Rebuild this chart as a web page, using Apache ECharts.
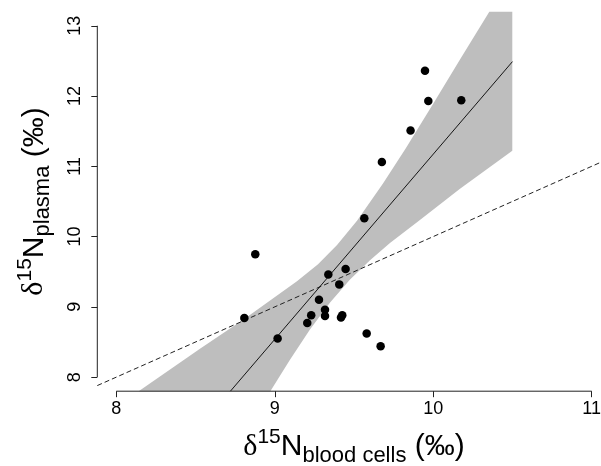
<!DOCTYPE html>
<html><head><meta charset="utf-8">
<script src="https://cdn.jsdelivr.net/npm/echarts@6/dist/echarts.min.js"></script>
<style>html,body{margin:0;padding:0;background:#fff}#c{width:601px;height:466px}</style>
</head><body><div id="c"></div>
<script>
// Data
const bloodCells = [9.948, 9.969, 10.177, 9.857, 9.676, 9.565, 8.877, 9.338, 9.447, 9.407, 9.279,
                    8.808, 9.317, 9.230, 9.317, 9.426, 9.418, 9.205, 9.018, 9.580, 9.668];
const plasma     = [12.36, 11.93, 11.94, 11.51, 11.06, 10.26, 9.75, 9.46, 9.54, 9.32, 9.10,
                    8.84, 8.96, 8.88, 8.87, 8.88, 8.85, 8.77, 8.55, 8.62, 8.44];
const xTicks = [8, 9, 10, 11];
const yTicks = [8, 9, 10, 11, 12, 13];
const fitX = [8.72, 10.5];
const fitY = [7.8, 12.49];
const oneToOneX = [7.88, 11.12];
const oneToOneY = [7.88, 11.12];
const bandUpperX = [8.141, 8.528, 8.812, 9.140, 9.273, 9.393, 9.519, 9.683, 9.828, 10.017, 10.169, 10.354, 10.499];
const bandUpperY = [7.80, 8.405, 8.836, 9.363, 9.608, 9.879, 10.227, 10.754, 11.262, 11.956, 12.519, 13.20, 13.20];
const bandLowerX = [10.499, 10.169, 9.916, 9.727, 9.601, 9.475, 9.349, 9.222, 9.096, 8.972];
const bandLowerY = [11.220, 10.681, 10.236, 9.907, 9.665, 9.389, 9.061, 8.677, 8.249, 7.80];

const X_MIN = 7.88, X_MAX = 11.12, Y_MIN = 7.8, Y_MAX = 13.2;
const FONT = '"Liberation Sans", Arial, sans-serif';

const points = bloodCells.map((x, i) => [x, plasma[i]]);
const bandPoly = bandUpperX.map((x, i) => [x, bandUpperY[i]])
  .concat(bandLowerX.map((x, i) => [x, bandLowerY[i]]));

function titleRich() {
  return {
    d: { fontSize: 30, lineHeight: 40, fontFamily: '"Liberation Serif", serif', color: '#000' },
    sup: { fontSize: 21, lineHeight: 27, verticalAlign: 'top', fontFamily: FONT, color: '#000' },
    n: { fontSize: 30, lineHeight: 40, fontFamily: FONT, color: '#000' },
    sub: { fontSize: 22, lineHeight: 22, verticalAlign: 'bottom', fontFamily: FONT, color: '#000' }
  };
}

const chart = echarts.init(document.getElementById('c'), null, { renderer: 'canvas' });
chart.setOption({
  backgroundColor: '#fff',
  animation: false,
  grid: { left: 97.3, top: 11.7, width: 513.4, height: 379.5, outerBoundsMode: 'none', containLabel: false },
  xAxis: {
    type: 'value', min: X_MIN, max: X_MAX,
    axisLine: { show: false }, splitLine: { show: false },
    axisTick: { show: true, length: 6, customValues: xTicks, lineStyle: { color: '#222', width: 1 } },
    axisLabel: { customValues: xTicks, fontSize: 18, fontFamily: FONT, color: '#000', margin: 9 },
    name: '{d|δ}{sup|15}{n|N}{sub|blood cells}{n| (‰)}',
    nameLocation: 'middle', nameGap: 36,
    nameTextStyle: { rich: titleRich() }
  },
  yAxis: {
    type: 'value', min: Y_MIN, max: Y_MAX,
    axisLine: { show: false }, splitLine: { show: false },
    axisTick: { show: true, length: 6, customValues: yTicks, lineStyle: { color: '#222', width: 1 } },
    axisLabel: { customValues: yTicks, fontSize: 18, fontFamily: FONT, color: '#000', margin: 13, rotate: 90 },
    name: '{d|δ}{sup|15}{n|N}{sub|plasma}{n| (‰)}',
    nameLocation: 'middle', nameGap: 43,
    nameTextStyle: { rich: titleRich() }
  },
  series: [
    {
      type: 'custom', z: 1, silent: true,
      data: [bandPoly[0]],
      renderItem: function (params, api) {
        return {
          type: 'polygon',
          shape: { points: bandPoly.map(p => api.coord(p)) },
          style: { fill: '#bebebe' }
        };
      }
    },
    {
      type: 'line', z: 2, silent: true, symbol: 'none',
      data: oneToOneX.map((x, i) => [x, oneToOneY[i]]),
      lineStyle: { color: '#222', width: 1, type: [5, 3] }
    },
    {
      type: 'line', z: 3, silent: true, symbol: 'none', clip: true,
      data: fitX.map((x, i) => [x, fitY[i]]),
      lineStyle: { color: '#000', width: 0.9 }
    },
    {
      type: 'scatter', z: 4, symbol: 'circle', symbolSize: 8.5,
      data: points,
      itemStyle: { color: '#000', opacity: 1 }
    },
    {
      type: 'line', z: 5, silent: true, symbol: 'none', clip: false,
      data: [[xTicks[0], Y_MIN], [xTicks[xTicks.length - 1], Y_MIN]],
      lineStyle: { color: '#222', width: 1 }
    },
    {
      type: 'line', z: 5, silent: true, symbol: 'none', clip: false,
      data: [[X_MIN, yTicks[0]], [X_MIN, yTicks[yTicks.length - 1]]],
      lineStyle: { color: '#222', width: 1 }
    }
  ]
});
</script>
</body></html>
